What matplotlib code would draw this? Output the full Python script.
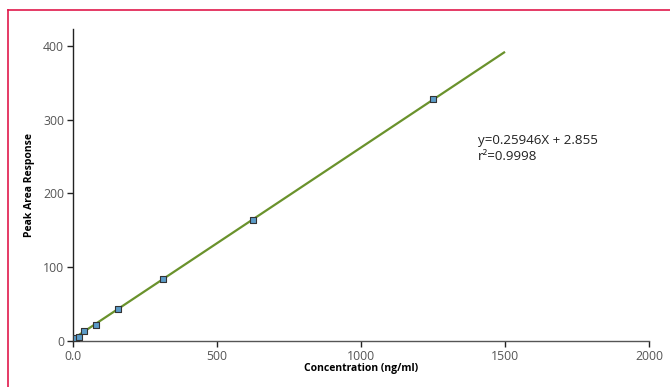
import matplotlib
matplotlib.use("Agg")
import matplotlib.pyplot as plt
from matplotlib.lines import Line2D

plt.rcParams['font.family'] = ['Open Sans', 'DejaVu Sans']

conc = [9.77, 19.53, 39.06, 78.13, 156.25, 312.5, 625, 1250]
resp = [4.0, 6.0, 13.0, 22.0, 43.0, 84.0, 164.0, 328.0]
slope, intercept = 0.25946, 2.855
fit_x = [0, 1500]
fit_y = [slope * v + intercept for v in fit_x]
xticks = [0, 500, 1000, 1500, 2000]
xticklabels = ['0.0', '500', '1000', '1500', '2000']
yticks = [0, 100, 200, 300, 400]

fig = plt.figure(figsize=(6.7, 3.87), dpi=100)
ax = fig.add_axes([73/670, 46/387, 576/670, (341-29)/387])

ax.plot(fit_x, fit_y, color='#6a922c', lw=1.6, zorder=2, solid_capstyle='butt')
ax.scatter(conc, resp, marker='s', s=24, facecolor='#5b9bc8', edgecolor='#333333',
           linewidth=0.8, zorder=3)

ax.set_xlim(0, 2000)
ax.set_ylim(0, 423)
ax.set_xticks(xticks)
ax.set_xticklabels(xticklabels)
ax.set_yticks(yticks)
for s in ['top', 'right']:
    ax.spines[s].set_visible(False)
ax.spines['left'].set_color('#222222')
ax.spines['bottom'].set_color('#555555')
ax.spines['left'].set_linewidth(1.0)
ax.spines['bottom'].set_linewidth(1.0)
ax.tick_params(axis='both', direction='out', length=4, width=1, colors='#222222',
               labelsize=8.8, labelcolor='#555555', pad=2.5)
ax.set_xlabel('Concentration (ng/ml)', fontsize=7.5, fontweight='bold', labelpad=0)
ax.set_ylabel('Peak Area Response', fontsize=7.5, fontweight='bold', labelpad=6)

ax.text(1405, 281, 'y=0.25946X + 2.855\nr²=0.9998', fontsize=9.6, color='#222222',
        va='top', ha='left', linespacing=1.3)

# red frame
fig.add_artist(Line2D([8/670, 1.0], [1 - 10/387, 1 - 10/387], transform=fig.transFigure,
                      color='#e0194b', lw=1.2))
fig.add_artist(Line2D([8/670, 8/670], [0, 1 - 10/387], transform=fig.transFigure,
                      color='#e0194b', lw=1.2))

fig.savefig('out.png', dpi=100)
